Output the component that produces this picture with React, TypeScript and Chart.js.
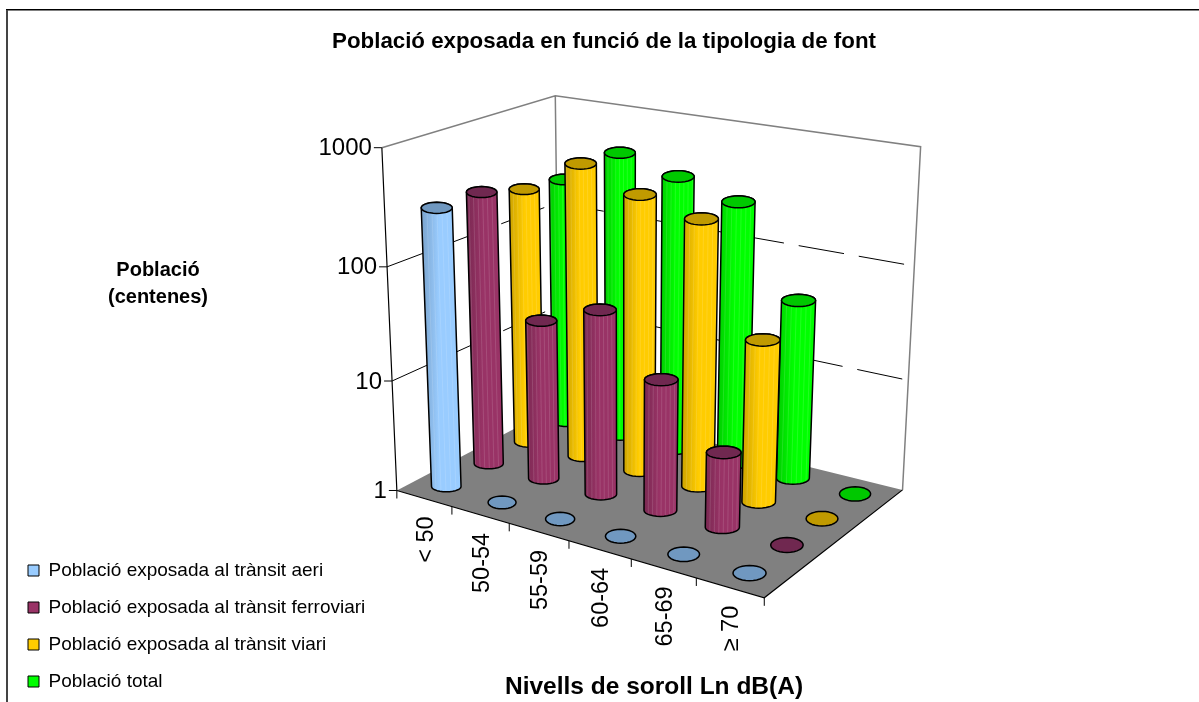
import React, { useEffect, useRef } from "react";
import { Chart, registerables, BarController } from "chart.js";

Chart.register(...registerables);

const categories = ["< 50", "50-54", "55-59", "60-64", "65-69", "≥ 70"];
const seriesLabels = [
  "Població exposada al trànsit aeri",
  "Població exposada al trànsit ferroviari",
  "Població exposada al trànsit viari",
  "Població total",
];
const aeri = [300, 1, 1, 1, 1, 1];
const ferroviari = [300, 28, 45, 14.6, 4.6, 1];
const viari = [235, 480, 315, 240, 28, 1];
const total = [213, 450, 335, 245, 42, 1];
const yTicks = [1, 10, 100, 1000];

const bodyColors = ["#99CCFF", "#993366", "#FFCC00", "#00FF00"];
const shadeColors = ["#7AA3CC", "#7A2952", "#CCA300", "#00CC00"];
const topColors = ["#7098C0", "#702850", "#C09A00", "#00C800"];

const FONT = '"Liberation Sans", Arial, sans-serif';

// Camera fit: (u, v, w, px, py)
const camera: number[][] = [
  [0, 0, 0, 398, 490],
  [1, 0, 0, 764, 599],
  [1, 1, 0, 903, 488],
  [0, 1, 0, 557, 407],
  [0, 0, 1, 380, 148],
  [0, 1, 1, 557, 96],
  [1, 1, 1, 920, 147],
  [0, 0, 1 / 3, 393, 380],
  [0, 0, 2 / 3, 387, 267],
  [0, 1, 2 / 3, 557, 202],
  [1, 1, 2 / 3, 914, 266],
  [1, 1, 1 / 3, 909, 381],
];

function solveCamera(): number[] {
  const n = 11;
  const rows: number[][] = [];
  const rhs: number[] = [];
  for (const [u, v, w, px, py] of camera) {
    const x = px / 1000;
    const y = py / 1000;
    rows.push([u, v, w, 1, 0, 0, 0, 0, -x * u, -x * v, -x * w]);
    rhs.push(x);
    rows.push([0, 0, 0, 0, u, v, w, 1, -y * u, -y * v, -y * w]);
    rhs.push(y);
  }
  const M: number[][] = [];
  for (let i = 0; i < n; i++) {
    const r = new Array(n + 1).fill(0);
    rows.forEach((row, k) => {
      for (let j = 0; j < n; j++) r[j] += row[i] * row[j];
      r[n] += row[i] * rhs[k];
    });
    M.push(r);
  }
  for (let i = 0; i < n; i++) {
    let best = i;
    for (let k = i + 1; k < n; k++) if (Math.abs(M[k][i]) > Math.abs(M[best][i])) best = k;
    [M[i], M[best]] = [M[best], M[i]];
    for (let k = 0; k < n; k++) {
      if (k === i) continue;
      const f = M[k][i] / M[i][i];
      for (let j = i; j <= n; j++) M[k][j] -= f * M[i][j];
    }
  }
  return M.map((r, i) => r[n] / r[i]);
}
const P = solveCamera();
function project(u: number, v: number, w: number): [number, number] {
  const d = P[8] * u + P[9] * v + P[10] * w + 1;
  return [
    (1000 * (P[0] * u + P[1] * v + P[2] * w + P[3])) / d,
    (1000 * (P[4] * u + P[5] * v + P[6] * w + P[7])) / d,
  ];
}

function normU(scale: any, px: number) {
  return (px - scale.left) / (scale.right - scale.left);
}
function normW(scale: any, px: number) {
  return (scale.bottom - px) / (scale.bottom - scale.top);
}

function hull(points: [number, number][]): [number, number][] {
  const p = [...points].sort((a, b) => a[0] - b[0] || a[1] - b[1]);
  const cross = (o: number[], a: number[], b: number[]) =>
    (a[0] - o[0]) * (b[1] - o[1]) - (a[1] - o[1]) * (b[0] - o[0]);
  const lo: [number, number][] = [];
  for (const q of p) {
    while (lo.length >= 2 && cross(lo[lo.length - 2], lo[lo.length - 1], q) <= 0) lo.pop();
    lo.push(q);
  }
  const up: [number, number][] = [];
  for (const q of p.reverse()) {
    while (up.length >= 2 && cross(up[up.length - 2], up[up.length - 1], q) <= 0) up.pop();
    up.push(q);
  }
  return lo.slice(0, -1).concat(up.slice(0, -1));
}

function poly(ctx: CanvasRenderingContext2D, pts: [number, number][]) {
  ctx.beginPath();
  pts.forEach(([x, y], i) => (i ? ctx.lineTo(x, y) : ctx.moveTo(x, y)));
  ctx.closePath();
}

function ring(u: number, v: number, w: number, ru: number, flatten: number): [number, number][] {
  const c = project(u, v, w);
  const rx = Math.abs(project(u + ru, v, w)[0] - project(u - ru, v, w)[0]) / 2;
  const ry = rx * flatten;
  const pts: [number, number][] = [];
  for (let i = 0; i < 28; i++) {
    const a = (i / 28) * Math.PI * 2;
    pts.push([c[0] + rx * Math.cos(a), c[1] + ry * Math.sin(a)]);
  }
  return pts;
}

function drawCylinder(ctx: CanvasRenderingContext2D, u: number, v: number, w: number, s: number) {
  const tall = w > 0.001;
  const top = tall ? ring(u, v, w, 0.045, 0.36) : ring(u, v, w, 0.041, 0.46);
  ctx.save();
  ctx.lineJoin = "round";
  ctx.strokeStyle = "#000";
  ctx.lineWidth = 1.5;
  if (tall) {
    const base = ring(u, v, 0, 0.045, 0.36);
    const body = hull([...base, ...top]);
    const xs = body.map((p) => p[0]);
    const x0 = Math.min(...xs);
    const x1 = Math.max(...xs);
    const g = ctx.createLinearGradient(x0, 0, x1, 0);
    g.addColorStop(0, shadeColors[s]);
    g.addColorStop(0.45, bodyColors[s]);
    g.addColorStop(1, bodyColors[s]);
    ctx.fillStyle = g;
    poly(ctx, body);
    ctx.fill();
    ctx.save();
    poly(ctx, body);
    ctx.clip();
    ctx.strokeStyle = "rgba(255,255,255,0.13)";
    ctx.lineWidth = 1;
    const cb = project(u, v, 0);
    const ct = project(u, v, w);
    for (let k = 1; k < 8; k++) {
      const fx = x0 + ((x1 - x0) * k) / 8;
      ctx.beginPath();
      ctx.moveTo(fx, cb[1] + 10);
      ctx.lineTo(fx + (ct[0] - cb[0]), ct[1] - 10);
      ctx.stroke();
    }
    ctx.restore();
    poly(ctx, body);
    ctx.stroke();
  }
  ctx.fillStyle = topColors[s];
  poly(ctx, top);
  ctx.fill();
  ctx.stroke();
  ctx.restore();
}

class CylinderController extends (BarController as any) {
  static id = "cylinder3d";
  static defaults = (BarController as any).defaults;
  static overrides = (BarController as any).overrides;
  draw() {
    const meta = (this as any)._cachedMeta;
    const ctx = (this as any).chart.ctx;
    const n = (this as any).chart.data.datasets.length;
    const s = (this as any).index;
    const values = (this as any).getDataset().data;
    values.forEach((val: number, i: number) => {
      const u = normU(meta.xScale, meta.xScale.getPixelForValue(i));
      const w = normW(meta.yScale, meta.yScale.getPixelForValue(val));
      drawCylinder(ctx, u, (s + 0.5) / n, w, s);
    });
  }
}
Chart.register(CylinderController as any);

const scene3d = {
  id: "scene3d",
  beforeDraw(chart: any) {
    const ctx: CanvasRenderingContext2D = chart.ctx;
    ctx.save();
    ctx.fillStyle = "#fff";
    ctx.fillRect(0, 0, chart.width, chart.height);
    ctx.fillStyle = "#444";
    ctx.fillRect(6, 9, 2, chart.height - 9);
    ctx.fillStyle = "#000";
    ctx.fillRect(6, 9, chart.width - 6, 1);
    ctx.fillStyle = "#808080";
    ctx.fillRect(8, 10, chart.width - 8, 1);
    ctx.restore();
  },
  beforeDatasetsDraw(chart: any) {
    const ctx: CanvasRenderingContext2D = chart.ctx;
    const y = chart.scales.y;
    ctx.save();
    // floor
    ctx.fillStyle = "#808080";
    poly(ctx, [project(0, 0, 0), project(1, 0, 0), project(1, 1, 0), project(0, 1, 0)]);
    ctx.fill();
    // wall outline
    ctx.strokeStyle = "#808080";
    ctx.lineWidth = 1.5;
    ctx.beginPath();
    const a1 = project(0, 0, 1);
    const d1 = project(0, 1, 1);
    const c1 = project(1, 1, 1);
    const c0 = project(1, 1, 0);
    const d0 = project(0, 1, 0);
    ctx.moveTo(a1[0], a1[1]);
    ctx.lineTo(d1[0], d1[1]);
    ctx.lineTo(c1[0], c1[1]);
    ctx.lineTo(c0[0], c0[1]);
    ctx.moveTo(d1[0], d1[1]);
    ctx.lineTo(d0[0], d0[1]);
    ctx.stroke();
    // grid
    ctx.strokeStyle = "#000";
    ctx.lineWidth = 1;
    ctx.setLineDash([46, 15]);
    y.ticks.forEach((t: any) => {
      if (t.value === y.min || t.value === y.max) return;
      const w = normW(y, y.getPixelForValue(t.value));
      const p0 = project(0, 0, w);
      const p1 = project(0, 1, w);
      const p2 = project(1, 1, w);
      ctx.beginPath();
      ctx.moveTo(p0[0], p0[1]);
      ctx.lineTo(p1[0], p1[1]);
      ctx.lineTo(p2[0], p2[1]);
      ctx.stroke();
    });
    ctx.restore();
    // edges
    ctx.save();
    ctx.strokeStyle = "#000";
    ctx.lineWidth = 1.2;
    const a = project(0, 0, 0);
    const b = project(1, 0, 0);
    const top = project(0, 0, 1);
    ctx.beginPath();
    ctx.moveTo(a[0], a[1]);
    ctx.lineTo(b[0], b[1]);
    ctx.lineTo(c0[0], c0[1]);
    ctx.moveTo(a[0], a[1]);
    ctx.lineTo(top[0], top[1]);
    ctx.stroke();
    ctx.restore();
  },
  afterDatasetsDraw(chart: any) {
    const ctx: CanvasRenderingContext2D = chart.ctx;
    const { x, y } = chart.scales;
    ctx.save();
    ctx.fillStyle = "#000";
    ctx.strokeStyle = "#000";
    ctx.lineWidth = 1;
    // y ticks and labels
    ctx.font = `24px ${FONT}`;
    ctx.textAlign = "right";
    ctx.textBaseline = "middle";
    y.ticks.forEach((t: any) => {
      const w = normW(y, y.getPixelForValue(t.value));
      const p = project(0, 0, w);
      ctx.beginPath();
      ctx.moveTo(p[0] - 8, p[1]);
      ctx.lineTo(p[0], p[1]);
      ctx.stroke();
      ctx.fillText(String(t.label), p[0] - 10, p[1] + 1);
    });
    // x ticks
    const width = x.right - x.left;
    const step = width / categories.length;
    for (let i = 0; i <= categories.length; i++) {
      const p = project(normU(x, x.left + step * i), 0, 0);
      ctx.beginPath();
      ctx.moveTo(p[0], p[1]);
      ctx.lineTo(p[0], p[1] + 8);
      ctx.stroke();
    }
    // x labels
    ctx.font = `23.5px ${FONT}`;
    x.ticks.forEach((t: any, i: number) => {
      const p = project(normU(x, x.getPixelForValue(i)), 0, 0);
      ctx.save();
      ctx.translate(p[0] + 2, p[1] + 18);
      ctx.rotate(-Math.PI / 2);
      ctx.textAlign = "right";
      ctx.textBaseline = "middle";
      ctx.fillText(String(t.label), 0, 0);
      ctx.restore();
    });
    // axis titles
    ctx.textAlign = "center";
    ctx.textBaseline = "middle";
    ctx.font = `bold 20px ${FONT}`;
    ctx.fillText("Població", 158, 270);
    ctx.fillText("(centenes)", 158, 297);
    ctx.font = `bold 24.5px ${FONT}`;
    ctx.fillText("Nivells de soroll Ln dB(A)", 654, 687);
    ctx.restore();
  },
};

export default function App() {
  const ref = useRef<HTMLCanvasElement | null>(null);
  useEffect(() => {
    document.body.style.margin = "0";
    const seriesData = [aeri, ferroviari, viari, total];
    const chart = new Chart(ref.current as HTMLCanvasElement, {
      type: "cylinder3d" as any,
      data: {
        labels: categories,
        datasets: seriesData.map((data, i) => ({
          label: seriesLabels[i],
          data,
          backgroundColor: bodyColors[i],
          borderColor: "#000",
          borderWidth: 1,
          clip: false,
        })),
      } as any,
      plugins: [scene3d],
      options: {
        animation: false,
        responsive: false,
        layout: { padding: { left: 10, right: 1, top: 28, bottom: -7 } },
        plugins: {
          tooltip: { enabled: false },
          title: {
            display: true,
            text: "Població exposada en funció de la tipologia de font",
            color: "#000",
            font: { family: FONT, size: 22.3, weight: "bold" },
            padding: { top: 0, bottom: 10 },
          },
          legend: {
            display: true,
            position: "left",
            align: "end",
            labels: {
              color: "#000",
              font: { family: FONT, size: 19 },
              boxWidth: 11,
              boxHeight: 11,
              padding: 18,
            },
          },
        },
        scales: {
          x: { type: "category", display: false, offset: true },
          y: {
            type: "logarithmic",
            display: false,
            min: 1,
            max: 1000,
            afterBuildTicks: (s: any) => {
              s.ticks = yTicks.map((value) => ({ value }));
            },
            ticks: { callback: (v: any) => String(v) },
          },
        },
      } as any,
    });
    return () => chart.destroy();
  }, []);
  return (
    <div style={{ width: 1199, height: 702, overflow: "hidden" }}>
      <canvas ref={ref} width={1199} height={702} style={{ display: "block" }} />
    </div>
  );
}
